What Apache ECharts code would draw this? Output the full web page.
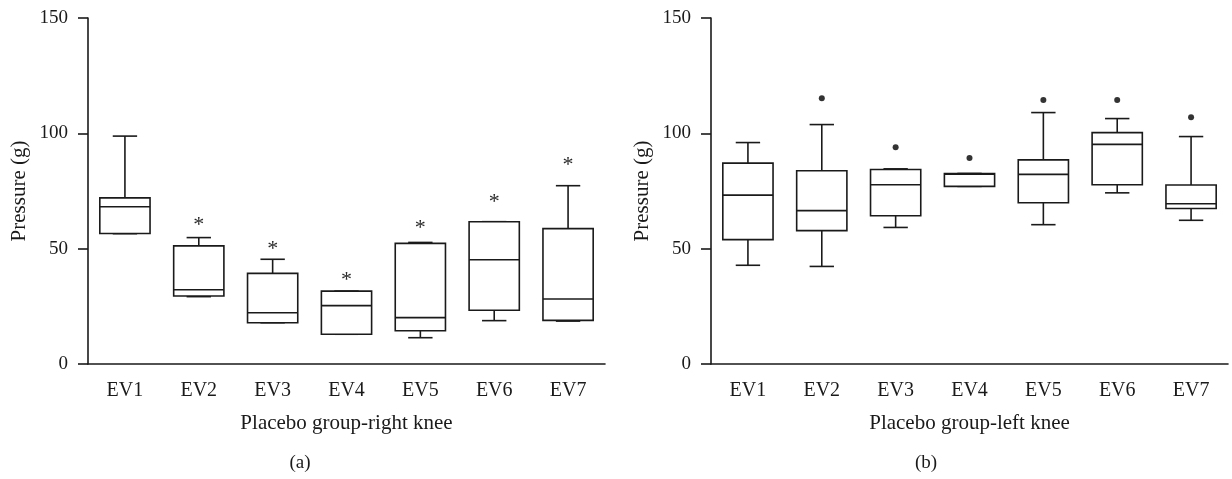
<!DOCTYPE html>
<html>
<head>
<meta charset="utf-8">
<script src="https://cdn.jsdelivr.net/npm/echarts@6/dist/echarts.min.js"></script>
<style>
html,body{margin:0;padding:0;background:#fff;}
#chart{width:1232px;height:479px;}
</style>
</head>
<body>
<div id="chart"></div>
<script>
// ---- data ----
var categories = ['EV1', 'EV2', 'EV3', 'EV4', 'EV5', 'EV6', 'EV7'];
var yTicks = [0, 50, 100, 150];

// right knee (a): [min, Q1, median, Q3, max]
var rightMin    = [56.5, 29.2, 17.9, 12.9, 11.4, 18.8, 18.6];
var rightQ1     = [56.6, 29.5, 17.9, 12.9, 14.4, 23.3, 18.9];
var rightMedian = [68.2, 32.2, 22.2, 25.3, 20.1, 45.2, 28.2];
var rightQ3     = [72.0, 51.2, 39.3, 31.6, 52.3, 61.7, 58.7];
var rightMax    = [98.8, 54.8, 45.4, 31.6, 52.7, 61.7, 77.3];
// asterisk markers (significance) above boxes; null = none
var rightStars  = [null, 62.4, 51.9, 38.6, 61.0, 72.3, 88.4];

// left knee (b)
var leftMin     = [42.8, 42.3, 59.2, 77.0, 60.4, 74.2, 62.3];
var leftQ1      = [53.9, 57.8, 64.3, 77.0, 69.9, 77.7, 67.4];
var leftMedian  = [73.2, 66.5, 77.7, 82.3, 82.2, 95.2, 69.5];
var leftQ3      = [87.1, 83.8, 84.3, 82.6, 88.5, 100.3, 77.6];
var leftMax     = [96.0, 103.8, 84.6, 82.6, 109.0, 106.4, 98.6];
var leftOutliers = [null, 115.2, 94.0, 89.3, 114.4, 114.4, 107.0];

// ---- build ----
var INK = '#1a1a1a';
var LW = 1.6;
var FONT = '"Liberation Serif", "Times New Roman", serif';

function boxRows(mn, q1, md, q3, mx) {
  return categories.map(function (c, i) { return [i, mn[i], q1[i], md[i], q3[i], mx[i]]; });
}
function pointRows(vals) {
  var out = [];
  vals.forEach(function (v, i) { if (v != null) out.push([i, v]); });
  return out;
}

function renderBox(params, api) {
  var x = api.value(0);
  var band = api.size([1, 0])[0];
  var bw = band * 0.68, cw = band * 0.33;
  var pMin = api.coord([x, api.value(1)]);
  var pQ1 = api.coord([x, api.value(2)]);
  var pMed = api.coord([x, api.value(3)]);
  var pQ3 = api.coord([x, api.value(4)]);
  var pMax = api.coord([x, api.value(5)]);
  var cx = pMed[0];
  var st = { stroke: INK, lineWidth: LW, fill: null };
  return {
    type: 'group',
    children: [
      { type: 'line', shape: { x1: cx, y1: pQ3[1], x2: cx, y2: pMax[1] }, style: st },
      { type: 'line', shape: { x1: cx, y1: pQ1[1], x2: cx, y2: pMin[1] }, style: st },
      { type: 'line', shape: { x1: cx - cw / 2, y1: pMax[1], x2: cx + cw / 2, y2: pMax[1] }, style: st },
      { type: 'line', shape: { x1: cx - cw / 2, y1: pMin[1], x2: cx + cw / 2, y2: pMin[1] }, style: st },
      { type: 'rect', shape: { x: cx - bw / 2, y: pQ3[1], width: bw, height: pQ1[1] - pQ3[1] }, style: { stroke: INK, lineWidth: LW, fill: '#fff' } },
      { type: 'line', shape: { x1: cx - bw / 2, y1: pMed[1], x2: cx + bw / 2, y2: pMed[1] }, style: st }
    ]
  };
}

function renderStar(params, api) {
  var p = api.coord([api.value(0), api.value(1)]);
  return {
    type: 'text',
    style: { text: '*', x: p[0], y: p[1] + 5, textAlign: 'center', textVerticalAlign: 'middle', font: '22px ' + FONT, fill: '#2a2a2a' }
  };
}

function xAxis(gi, name) {
  return {
    type: 'category', gridIndex: gi, data: categories,
    name: name, nameLocation: 'middle', nameGap: 49,
    nameTextStyle: { fontFamily: FONT, fontSize: 21, color: INK },
    axisLine: { lineStyle: { color: INK, width: LW } },
    axisTick: { alignWithLabel: true, length: 10, lineStyle: { color: INK, width: LW } },
    axisLabel: { fontFamily: FONT, fontSize: 20, color: INK, margin: 17 },
    splitLine: { show: false }
  };
}
function yAxis(gi) {
  return {
    type: 'value', gridIndex: gi, min: yTicks[0], max: yTicks[yTicks.length - 1], interval: 50,
    name: 'Pressure (g)', nameLocation: 'middle', nameGap: 58,
    nameTextStyle: { fontFamily: FONT, fontSize: 21, color: INK },
    axisLine: { show: true, lineStyle: { color: INK, width: LW } },
    axisTick: { show: true, length: 10, lineStyle: { color: INK, width: LW } },
    axisLabel: { fontFamily: FONT, fontSize: 19, color: INK, margin: 20 },
    splitLine: { show: false }
  };
}

var chart = echarts.init(document.getElementById('chart'), null, { renderer: 'canvas' });
chart.setOption({
  animation: false,
  backgroundColor: '#fff',
  grid: [
    { left: 88, right: 627, top: 18, bottom: 115 },
    { left: 711, right: 4, top: 18, bottom: 115 }
  ],
  xAxis: [xAxis(0, 'Placebo group-right knee'), xAxis(1, 'Placebo group-left knee')],
  yAxis: [yAxis(0), yAxis(1)],
  graphic: [
    { type: 'text', x: 300, y: 463, style: { text: '(a)', textAlign: 'center', textVerticalAlign: 'middle', font: '19px ' + FONT, fill: INK } },
    { type: 'text', x: 926, y: 463, style: { text: '(b)', textAlign: 'center', textVerticalAlign: 'middle', font: '19px ' + FONT, fill: INK } }
  ],
  series: [
    { type: 'custom', xAxisIndex: 0, yAxisIndex: 0, data: boxRows(rightMin, rightQ1, rightMedian, rightQ3, rightMax),
      encode: { x: 0, y: [1, 2, 3, 4, 5] }, renderItem: renderBox },
    { type: 'custom', xAxisIndex: 0, yAxisIndex: 0, data: pointRows(rightStars),
      encode: { x: 0, y: 1 }, renderItem: renderStar },
    { type: 'custom', xAxisIndex: 1, yAxisIndex: 1, data: boxRows(leftMin, leftQ1, leftMedian, leftQ3, leftMax),
      encode: { x: 0, y: [1, 2, 3, 4, 5] }, renderItem: renderBox },
    { type: 'scatter', xAxisIndex: 1, yAxisIndex: 1, data: pointRows(leftOutliers),
      symbol: 'circle', symbolSize: 6, itemStyle: { color: '#000' } }
  ]
});
</script>
</body>
</html>
